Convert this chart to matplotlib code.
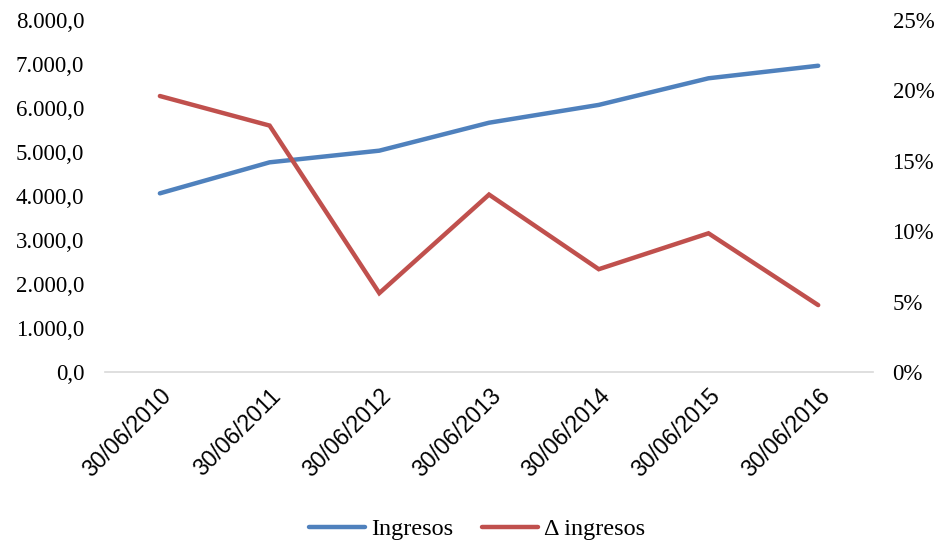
import matplotlib
matplotlib.use("Agg")
import matplotlib.pyplot as plt
from matplotlib.ticker import FuncFormatter, MultipleLocator

# ── data ──────────────────────────────────────────────────────
FECHAS    = ["30/06/2010", "30/06/2011", "30/06/2012", "30/06/2013",
             "30/06/2014", "30/06/2015", "30/06/2016"]
INGRESOS  = [4060, 4765, 5030, 5665, 6070, 6675, 6960]
DELTA_PCT = [19.6, 17.5, 5.6, 12.6, 7.3, 9.85, 4.75]

BLUE = "#4F81BD"
RED  = "#C0504D"
SERIF = ["Liberation Serif", "DejaVu Serif"]
SANS  = ["Liberation Sans", "DejaVu Sans"]


def miles(v, _):
    # 8000 -> "8.000,0"
    s = f"{v:,.1f}"
    return s.replace(",", "X").replace(".", ",").replace("X", ".")


fig = plt.figure(figsize=(9.41, 5.46), dpi=100)
ax = fig.add_axes([0.1116, 0.3187, 0.8162, 0.6447])
ax2 = ax.twinx()

x = list(range(len(FECHAS)))
l1, = ax.plot(x, INGRESOS, color=BLUE, lw=3.2, solid_capstyle="round",
              solid_joinstyle="miter", label="Ingresos")
l2, = ax2.plot(x, DELTA_PCT, color=RED, lw=3.2, solid_capstyle="round",
               solid_joinstyle="miter", label="Δ ingresos")

ax.set_xlim(-0.5, len(FECHAS) - 0.5)
ax.set_ylim(0, 8000)
ax2.set_ylim(0, 25)
ax.yaxis.set_major_locator(MultipleLocator(1000))
ax2.yaxis.set_major_locator(MultipleLocator(5))
ax.yaxis.set_major_formatter(FuncFormatter(miles))
ax2.yaxis.set_major_formatter(FuncFormatter(lambda v, _: f"{v:.0f}%"))

for a in (ax, ax2):
    for sp in a.spines.values():
        sp.set_visible(False)
ax.spines["bottom"].set_visible(True)
ax.spines["bottom"].set_color("#D9D9D9")
ax.spines["bottom"].set_linewidth(1.2)

ax.tick_params(axis="y", length=0, pad=15, labelsize=16.5)
ax2.tick_params(axis="y", length=0, pad=14, labelsize=16.5)
ax.tick_params(axis="x", length=0, pad=9)
for t in ax.get_yticklabels() + ax2.get_yticklabels():
    t.set_fontfamily(SERIF)

ax.set_xticks(x)
ax.set_xticklabels(FECHAS, rotation=45, ha="right", rotation_mode="anchor",
                   fontsize=16.5, family=SANS)

leg = fig.legend([l1, l2], ["Ingresos", "Δ ingresos"], loc="center",
                 bbox_to_anchor=(0.507, 0.031), ncol=2, frameon=False,
                 handlelength=2.3, handletextpad=0.25, columnspacing=1.2,
                 prop={"family": SERIF, "size": 17.5})

fig.savefig("out.png", dpi=100)
